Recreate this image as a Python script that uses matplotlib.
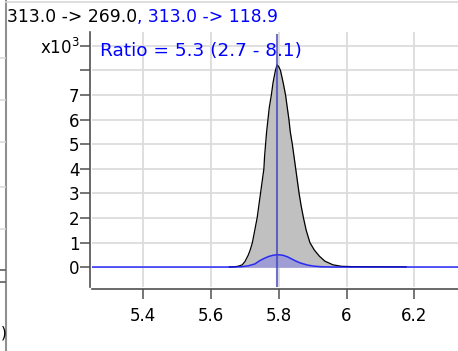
import matplotlib
matplotlib.use("Agg")
import matplotlib.pyplot as plt

# trace 313.0 -> 269.0 (grey, filled)
gray_rt = [5.654, 5.670, 5.682, 5.692, 5.700, 5.710, 5.716, 5.722, 5.729, 5.736,
           5.741, 5.746, 5.751, 5.756, 5.758, 5.761, 5.764, 5.768, 5.772, 5.778,
           5.783, 5.790, 5.795, 5.800, 5.805, 5.813, 5.820, 5.825, 5.830, 5.834,
           5.840, 5.845, 5.850, 5.855, 5.860, 5.866, 5.873, 5.881, 5.892, 5.905,
           5.920, 5.936, 5.960, 5.985, 6.020, 6.176]
gray_int = [15, 20, 50, 100, 230, 500, 720, 1000, 1500, 2000,
            2500, 3000, 3500, 4000, 4500, 5000, 5500, 6000, 6500, 7000,
            7500, 8000, 8230, 8150, 8000, 7500, 7000, 6500, 6000, 5500,
            5000, 4500, 4000, 3500, 3000, 2500, 2000, 1500, 1000, 700,
            450, 250, 100, 40, 25, 15]

# trace 313.0 -> 118.9 (blue)
blue_rt = [5.20, 5.660, 5.690, 5.710, 5.730, 5.742, 5.755, 5.770, 5.785, 5.799,
           5.812, 5.825, 5.838, 5.850, 5.865, 5.885, 5.905, 5.929, 5.960, 6.45]
blue_int = [10, 10, 25, 60, 140, 255, 350, 440, 495, 510,
            490, 430, 340, 255, 170, 90, 45, 20, 12, 10]

marker_rt = 5.796
title_black = "313.0 -> 269.0"
title_blue = ", 313.0 -> 118.9"
ratio_text = "Ratio = 5.3 (2.7 - 8.1)"
xticks = [5.4, 5.6, 5.8, 6.0, 6.2]
xtick_labels = ["5.4", "5.6", "5.8", "6", "6.2"]
yticks = [0, 1000, 2000, 3000, 4000, 5000, 6000, 7000, 8000, 9000]
ytick_labels = ["0", "1", "2", "3", "4", "5", "6", "7", "", "x10$^3$"]

W, H = 458, 351
fig = plt.figure(figsize=(W / 100, H / 100), dpi=100)
plt.rcParams["font.family"] = "DejaVu Sans"
plt.rcParams["mathtext.default"] = "regular"

ax = fig.add_axes([92 / W, (H - 287) / H, 380 / W, (287 - 32) / H])
ax.set_xlim(5.2486, 5.2486 + 380 / 338.75)
ax.set_ylim(-801, 9565)

ax.grid(True, color="#dcdcdc", lw=1.3, zorder=0)
ax.set_axisbelow(True)

ax.fill_between(gray_rt, gray_int, 0, color="#c0c0c0", zorder=2, lw=0)
ax.plot(gray_rt, gray_int, color="black", lw=0.9, zorder=3)
ax.fill_between(blue_rt, blue_int, 0, color="#6060ff", alpha=0.35, lw=0, zorder=4)
ax.plot(blue_rt, blue_int, color="#1010ff", lw=1.1, alpha=0.85, zorder=5)
ax.axvline(marker_rt, ymax=0.99, color="#4040c0", lw=1.5, alpha=0.75, zorder=6)

for s in ["top", "right"]:
    ax.spines[s].set_visible(False)
for s in ["left", "bottom"]:
    ax.spines[s].set_position(("outward", 1.5))
    ax.spines[s].set_color("#505050")
    ax.spines[s].set_linewidth(1.2)

ax.set_xticks(xticks)
ax.set_xticklabels(xtick_labels)
ax.set_yticks(yticks)
ax.set_yticklabels(ytick_labels)
ax.tick_params(axis="both", colors="#505050", labelcolor="black", length=7, width=1.1,
               labelsize=12)
ax.tick_params(axis="x", pad=6)
ax.tick_params(axis="y", pad=0.5)

# two-colour title
t1 = fig.text(7 / W, (H - 22) / H, title_black, fontsize=12.3, color="black",
              va="baseline", ha="left")
fig.canvas.draw()
bb = t1.get_window_extent()
fig.text(bb.x1 / W, (H - 22) / H, title_blue, fontsize=12.3, color="#0000ff",
         va="baseline", ha="left")

fig.text(100 / W, (H - 56) / H, ratio_text, fontsize=13.3, color="#0000ff",
         va="baseline", ha="left")

# fragment of neighbouring panel on the left
fig.add_artist(plt.Line2D([5.5 / W, 5.5 / W], [0, 1], color="#909090", lw=1.5))
fig.add_artist(plt.Line2D([5.5 / W, 1], [1 - 2 / H, 1 - 2 / H], color="#d8d8d8", lw=1.2))
for yy in [58, 100, 142, 187, 229]:
    fig.add_artist(plt.Line2D([0, 5 / W], [1 - yy / H] * 2, color="#dcdcdc", lw=1.2))
for yy in [270, 282]:
    fig.add_artist(plt.Line2D([0, 5 / W], [1 - yy / H] * 2, color="#505050", lw=1.1))
fig.text(0.5 / W, (H - 338) / H, ")", fontsize=11, ha="left", va="baseline")

fig.savefig("out.png", dpi=100)
